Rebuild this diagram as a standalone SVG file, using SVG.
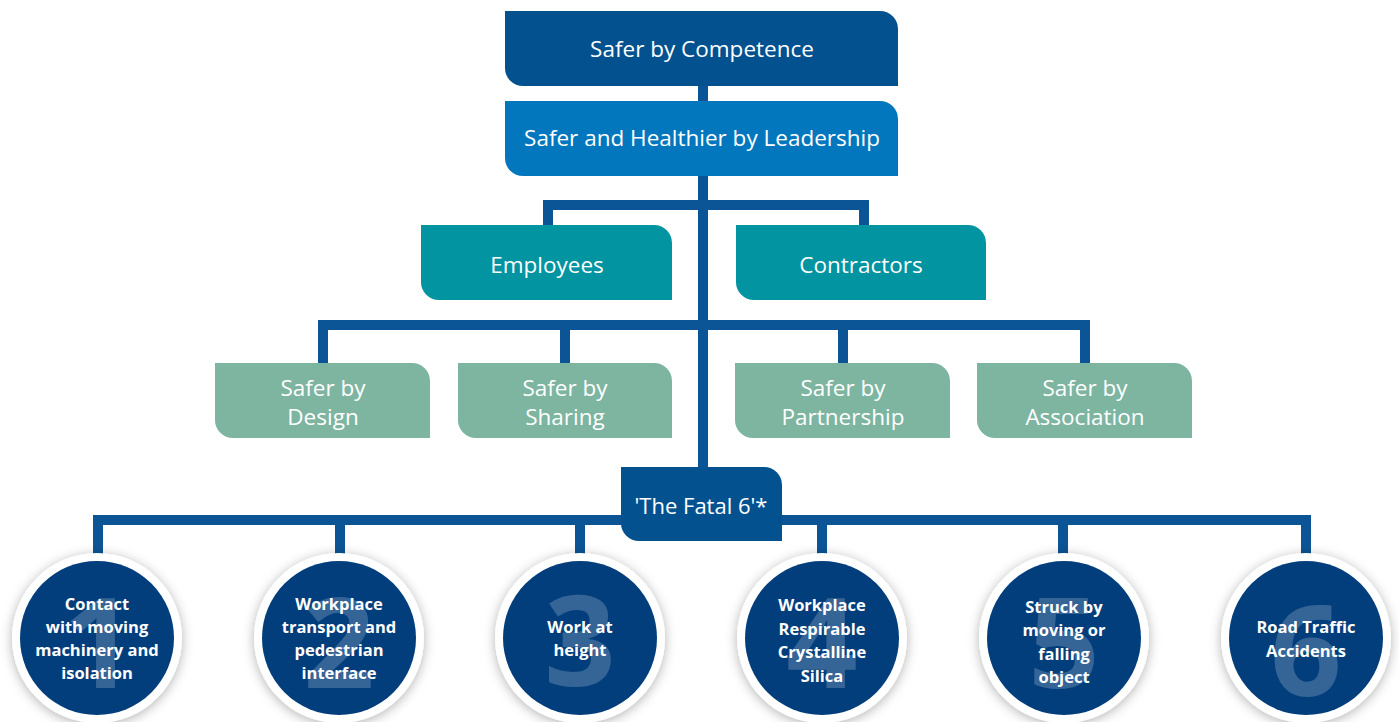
<svg xmlns="http://www.w3.org/2000/svg" width="1399" height="722" viewBox="0 0 1399 722">
<style>
.t{font-family:"Open Sans","Noto Sans",sans-serif;fill:#fff;text-anchor:middle;font-size:22.5px}
.c{font-family:"Open Sans","Noto Sans",sans-serif;fill:#fff;text-anchor:middle;font-size:16.5px;font-weight:bold}
.n{font-family:"Open Sans","Noto Sans",sans-serif;fill:#fff;fill-opacity:0.2;text-anchor:middle;font-size:125px;font-weight:bold}
.ln{stroke:#0b5596;stroke-width:10;fill:none}
.dk{fill:#03528f}
.ring{fill:#fff;filter:url(#sh)}
.in{fill:#033e7c}
</style>
<defs>
<filter id="sh" x="-30%" y="-30%" width="160%" height="160%">
<feDropShadow dx="0" dy="2" stdDeviation="6" flood-color="#000" flood-opacity="0.3"/>
</filter>
</defs>
<g id="connectors">
<path class="ln" d="M703 86V467"/>
<path class="ln" d="M548 225V205H864V225"/>
<path class="ln" d="M323 363V325H1085V363M565 325V363M843 325V363"/>
<path class="ln" d="M98 555V520H1306V555M340 520V555M580 520V555M822 520V555M1063 520V555"/>
</g>
<g id="n-competence">
<path class="dk" d="M505 11H880A18 18 0 0 1 898 29V86H523A18 18 0 0 1 505 68Z"/>
<text class="t" x="702" y="57">Safer by Competence</text>
</g>
<g id="n-leadership">
<path fill="#0377bd" d="M505 101H880A18 18 0 0 1 898 119V176H523A18 18 0 0 1 505 158Z"/>
<text class="t" x="702" y="146">Safer and Healthier by Leadership</text>
</g>
<g id="n-employees">
<path fill="#0294a0" d="M421 225H654A18 18 0 0 1 672 243V300H439A18 18 0 0 1 421 282Z"/>
<text class="t" x="547" y="273">Employees</text>
</g>
<g id="n-contractors">
<path fill="#0294a0" d="M736 225H968A18 18 0 0 1 986 243V300H754A18 18 0 0 1 736 282Z"/>
<text class="t" x="861" y="273">Contractors</text>
</g>
<g id="n-design">
<path fill="#7db5a1" d="M215 363H412A18 18 0 0 1 430 381V438H233A18 18 0 0 1 215 420Z"/>
<text class="t" x="323" y="396">Safer by</text>
<text class="t" x="323" y="425">Design</text>
</g>
<g id="n-sharing">
<path fill="#7db5a1" d="M458 363H654A18 18 0 0 1 672 381V438H476A18 18 0 0 1 458 420Z"/>
<text class="t" x="565" y="396">Safer by</text>
<text class="t" x="565" y="425">Sharing</text>
</g>
<g id="n-partnership">
<path fill="#7db5a1" d="M735 363H932A18 18 0 0 1 950 381V438H753A18 18 0 0 1 735 420Z"/>
<text class="t" x="843" y="396">Safer by</text>
<text class="t" x="843" y="425">Partnership</text>
</g>
<g id="n-association">
<path fill="#7db5a1" d="M977 363H1174A18 18 0 0 1 1192 381V438H995A18 18 0 0 1 977 420Z"/>
<text class="t" x="1085" y="396">Safer by</text>
<text class="t" x="1085" y="425">Association</text>
</g>
<g id="n-fatal6">
<path class="dk" d="M621 467H764A18 18 0 0 1 782 485V541H639A18 18 0 0 1 621 523Z"/>
<text class="t" x="701" y="514" style="font-size:22px">'The Fatal 6'*</text>
</g>
<g id="n-1">
<circle class="ring" cx="97" cy="638" r="85"/>
<circle class="in" cx="97" cy="638" r="77"/>
<text class="n" x="99" y="688">1</text>
<text class="c" x="97" y="610">Contact</text>
<text class="c" x="97" y="633">with moving</text>
<text class="c" x="97" y="656">machinery and</text>
<text class="c" x="97" y="679">isolation</text>
</g>
<g id="n-2">
<circle class="ring" cx="339" cy="638" r="85"/>
<circle class="in" cx="339" cy="638" r="77"/>
<text class="n" x="339" y="688">2</text>
<text class="c" x="339" y="610">Workplace</text>
<text class="c" x="339" y="633">transport and</text>
<text class="c" x="339" y="656">pedestrian</text>
<text class="c" x="339" y="679">interface</text>
</g>
<g id="n-3">
<circle class="ring" cx="580" cy="638" r="85"/>
<circle class="in" cx="580" cy="638" r="77"/>
<text class="n" x="580" y="686">3</text>
<text class="c" x="580" y="633">Work at</text>
<text class="c" x="580" y="656">height</text>
</g>
<g id="n-4">
<circle class="ring" cx="822" cy="638" r="85"/>
<circle class="in" cx="822" cy="638" r="77"/>
<text class="n" x="822" y="688">4</text>
<text class="c" x="822" y="611">Workplace</text>
<text class="c" x="822" y="635">Respirable</text>
<text class="c" x="822" y="658">Crystalline</text>
<text class="c" x="822" y="682">Silica</text>
</g>
<g id="n-5">
<circle class="ring" cx="1064" cy="638" r="85"/>
<circle class="in" cx="1064" cy="638" r="77"/>
<text class="n" x="1064" y="688">5</text>
<text class="c" x="1064" y="613">Struck by</text>
<text class="c" x="1064" y="636">moving or</text>
<text class="c" x="1064" y="660">falling</text>
<text class="c" x="1064" y="683">object</text>
</g>
<g id="n-6">
<circle class="ring" cx="1306" cy="638" r="85"/>
<circle class="in" cx="1306" cy="638" r="77"/>
<text class="n" x="1306" y="696">6</text>
<text class="c" x="1306" y="633">Road Traffic</text>
<text class="c" x="1306" y="657">Accidents</text>
</g>
</svg>
